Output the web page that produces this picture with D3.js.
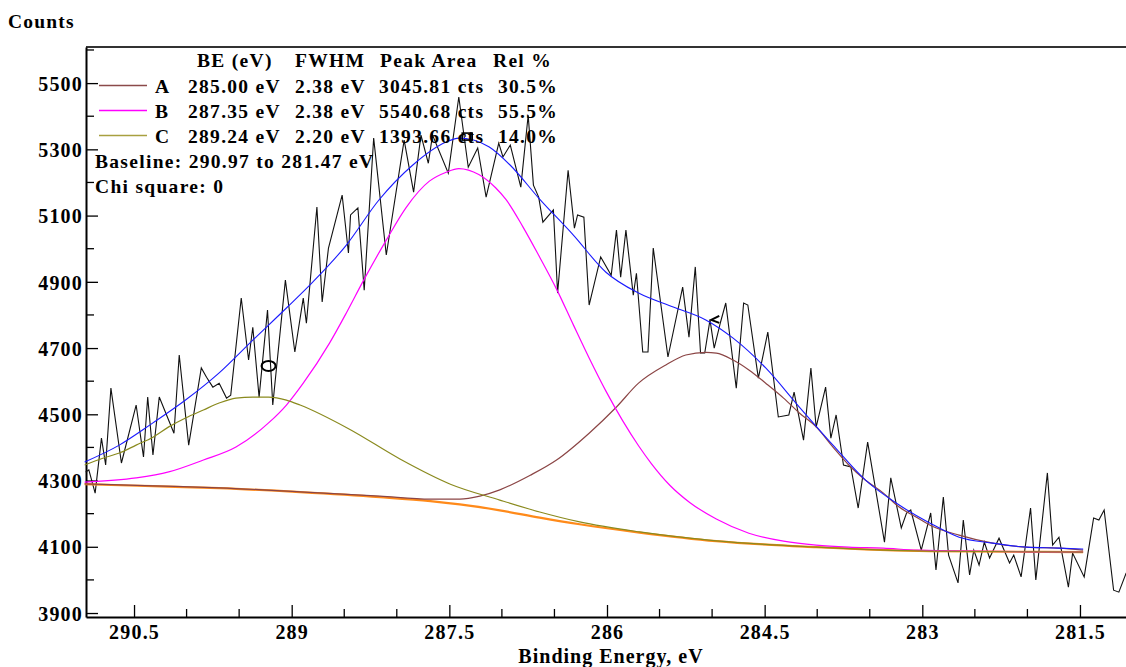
<!DOCTYPE html>
<html>
<head>
<meta charset="utf-8">
<script src="https://cdn.jsdelivr.net/npm/d3@7"></script>
<style>
  html, body { margin: 0; padding: 0; background: #fff; }
  svg text { font-family: "Liberation Serif", "Times New Roman", serif; font-weight: bold; fill: #000; }
</style>
</head>
<body>
<svg id="chart" width="1126" height="667"></svg>
<script>
// C 1s spectrum: raw counts
const rawBE = [290.96,290.93,290.87,290.81,290.77,290.72,290.62,290.48,290.41,290.37,290.32,290.26,290.12,290.07,289.98,289.86,289.81,289.75,289.69,289.62,289.58,289.48,289.41,289.37,289.31,289.23,289.18,289.06,288.97,288.89,288.86,288.76,288.71,288.65,288.52,288.46,288.44,288.37,288.31,288.22,288.10,287.93,287.84,287.77,287.70,287.66,287.51,287.41,287.32,287.23,287.15,287.03,286.99,286.92,286.82,286.75,286.70,286.65,286.61,286.51,286.47,286.37,286.31,286.28,286.22,286.17,286.06,285.96,285.91,285.87,285.82,285.75,285.72,285.66,285.61,285.56,285.42,285.28,285.22,285.16,285.11,285.07,285.02,284.98,284.92,284.87,284.77,284.70,284.66,284.56,284.47,284.37,284.27,284.22,284.13,284.06,284.01,283.92,283.87,283.82,283.75,283.68,283.61,283.52,283.36,283.30,283.20,283.15,283.11,283.01,282.92,282.87,282.80,282.75,282.66,282.61,282.55,282.51,282.46,282.41,282.36,282.27,282.17,282.13,282.06,281.97,281.92,281.81,281.76,281.70,281.61,281.57,281.46,281.37,281.32,281.27,281.18,281.13,281.06];
const rawCounts = [4326,4332,4262,4428,4347,4579,4353,4528,4371,4552,4377,4552,4443,4679,4407,4640,4612,4582,4594,4549,4558,4851,4664,4763,4552,4815,4528,4905,4688,4851,4775,5126,4839,5002,5162,4987,5102,5123,4875,5334,4981,5328,5171,5343,5258,5343,5228,5458,5246,5304,5156,5319,5277,5313,5186,5403,5192,5156,5080,5117,4866,5237,5062,5102,5095,4830,4975,4920,5056,4914,5056,4860,4926,4688,4688,5002,4673,4884,4733,4945,4685,4685,4785,4700,4778,4836,4579,4836,4830,4609,4748,4492,4498,4567,4422,4640,4461,4582,4428,4498,4347,4341,4217,4416,4114,4308,4157,4202,4211,4090,4202,4030,4250,4075,3991,4181,4015,4090,4045,4114,4066,4126,4051,4075,4009,4217,4000,4323,4105,4129,3978,4081,4009,4187,4181,4211,3969,3963,4021];

// Shirley background
const baseBE = [290.97,290.32,289.69,288.92,288.16,287.68,287.40,287.02,286.64,286.26,285.69,284.96,284.01,282.93,281.47];
const baseCounts = [4289,4283,4277,4265,4250,4238,4228,4210,4188,4168,4143,4117,4099,4087,4084];

// Component A (285.00 eV)
const peakABE = [290.97,290.32,289.69,288.92,288.16,287.68,287.40,287.21,287.02,286.73,286.48,286.17,285.91,285.70,285.44,285.25,285.06,284.96,284.80,284.65,284.49,284.32,284.17,284.01,283.85,283.70,283.54,283.37,283.22,283.06,282.93,282.65,282.33,282.01,281.70,281.47];
const peakACounts = [4290,4284,4278,4266,4253,4244,4244,4253,4272,4316,4362,4443,4522,4594,4649,4679,4687,4685,4664,4634,4594,4549,4504,4462,4401,4347,4301,4262,4220,4190,4166,4135,4111,4099,4096,4090];

// Component B (287.35 eV)
const peakBBE = [290.97,290.48,290.17,289.84,289.53,289.22,289.05,288.89,288.64,288.48,288.32,288.10,287.91,287.69,287.53,287.41,287.22,287.06,286.96,286.80,286.65,286.48,286.32,286.17,286.01,285.85,285.70,285.58,285.40,285.21,284.96,284.65,284.32,284.01,283.70,283.37,283.05,281.47];
const peakBCounts = [4295,4308,4326,4362,4401,4474,4528,4594,4715,4806,4902,5026,5125,5204,5231,5242,5224,5184,5148,5066,4980,4878,4770,4670,4570,4480,4405,4352,4285,4233,4184,4141,4117,4105,4099,4096,4090,4084];

// Component C (289.24 eV)
const peakCBE = [290.97,290.79,290.64,290.48,290.32,290.17,290.01,289.84,289.69,289.53,289.37,289.22,289.05,288.92,288.45,287.97,287.49,287.02,286.64,286.26,285.69,284.96,284.01,282.93,281.47];
const peakCCounts = [4347,4368,4383,4407,4431,4462,4489,4513,4534,4549,4552,4552,4543,4528,4455,4365,4289,4241,4205,4175,4145,4118,4099,4087,4084];

// Sum of components
const envBE = [290.97,290.64,290.32,290.01,289.69,289.37,289.05,288.80,288.48,288.17,287.85,287.53,287.41,287.27,287.12,286.92,286.65,286.32,286.01,285.70,285.37,285.06,284.80,284.49,284.17,283.85,283.54,283.22,282.93,282.65,282.33,282.01,281.70,281.47];
const envCounts = [4356,4407,4474,4543,4625,4724,4821,4899,5011,5147,5252,5322,5334,5328,5307,5252,5153,5041,4929,4866,4824,4785,4730,4640,4522,4407,4301,4226,4172,4129,4111,4099,4096,4093];

// Peak table
const peakNames = ["A", "B", "C"];
const peakCentres = [285.00, 287.35, 289.24];
const peakFWHM = [2.38, 2.38, 2.20];
const peakAreas = [3045.81, 5540.68, 1393.66];
const peakRel = [30.5, 55.5, 14.0];
const peakColors = ["#8b4a4a", "#ff00ff", "#a8a040"];
const curveColors = ["#8b4545", "#ff00ff", "#8a8a1e"];

// Peak handles on the envelope
const handleBE = [284.97, 287.33, 289.22];
const handleCounts = [4785, 5337, 4646];

// Axis ticks
const xTickValues = [290.5, 289, 287.5, 286, 284.5, 283, 281.5];
const xTickLabels = ["290.5", "289", "287.5", "286", "284.5", "283", "281.5"];
const xMinorTicks = [290.5, 290, 289.5, 289, 288.5, 288, 287.5, 287, 286.5, 286, 285.5, 285, 284.5, 284, 283.5, 283, 282.5, 282, 281.5];
const yTickValues = [5500, 5300, 5100, 4900, 4700, 4500, 4300, 4100, 3900];
const yTickLabels = ["5500", "5300", "5100", "4900", "4700", "4500", "4300", "4100", "3900"];
const yMinorTicks = [5600, 5400, 5200, 5000, 4800, 4600, 4400, 4200, 4000];

const svg = d3.select("#chart");
const plotLeft = 86, plotRight = 1126, plotTop = 47, plotBottom = 617;

const x = d3.scaleLinear().domain([290.957, 281.062]).range([plotLeft, plotRight]);
const y = d3.scaleLinear().domain([3888, 5609]).range([plotBottom, plotTop]);

svg.append("rect").attr("width", 1126).attr("height", 667).attr("fill", "#fff");

// top border of the plot frame
svg.append("line").attr("x1", plotLeft).attr("x2", plotRight).attr("y1", plotTop).attr("y2", plotTop)
  .attr("stroke", "#333").attr("stroke-width", 2);

// x axis
const xAxis = d3.axisBottom(x).tickValues(xTickValues)
  .tickFormat((d, i) => xTickLabels[i]).tickSizeInner(-12).tickSizeOuter(0).tickPadding(20);
const gx = svg.append("g").attr("transform", `translate(0,${plotBottom})`).call(xAxis);
gx.select(".domain").attr("stroke", "#000").attr("stroke-width", 2);
gx.selectAll(".tick line").attr("stroke", "#000").attr("stroke-width", 1.3);
gx.selectAll(".tick text").attr("font-size", 20).style("letter-spacing", "1.2px")
  .attr("dy", "0.35em").attr("y", 15);
svg.append("g").selectAll("line").data(xMinorTicks.filter(v => !xTickValues.includes(v)))
  .join("line")
  .attr("x1", d => x(d)).attr("x2", d => x(d)).attr("y1", plotBottom).attr("y2", plotBottom - 8)
  .attr("stroke", "#000").attr("stroke-width", 1.3);

// y axis
const yAxis = d3.axisLeft(y).tickValues(yTickValues)
  .tickFormat((d, i) => yTickLabels[i]).tickSizeInner(-12).tickSizeOuter(0).tickPadding(4);
const gy = svg.append("g").attr("transform", `translate(${plotLeft},0)`).call(yAxis);
gy.select(".domain").attr("stroke", "#000").attr("stroke-width", 2);
gy.selectAll(".tick line").attr("stroke", "#000").attr("stroke-width", 1.3);
gy.selectAll(".tick text").attr("font-size", 20).style("letter-spacing", "1.2px")
  .attr("x", -3).attr("dy", "0.36em");
svg.append("g").selectAll("line").data(yMinorTicks).join("line")
  .attr("x1", plotLeft).attr("x2", plotLeft + 8).attr("y1", d => y(d)).attr("y2", d => y(d))
  .attr("stroke", "#000").attr("stroke-width", 1.3);

// axis titles
svg.append("text").attr("x", 8).attr("y", 28).attr("font-size", 19.5)
  .style("letter-spacing", "1.2px").text("Counts");
svg.append("text").attr("x", 611).attr("y", 663).attr("text-anchor", "middle")
  .attr("font-size", 20).style("letter-spacing", "1px").text("Binding Energy, eV");

// curves
const plot = svg.append("g");
const zipXY = (es, cs) => es.map((e, i) => [x(e), y(cs[i])]);
const smooth = d3.line().curve(d3.curveMonotoneX);
const straight = d3.line();

plot.append("path").attr("d", straight(zipXY(rawBE, rawCounts)))
  .attr("fill", "none").attr("stroke", "#111").attr("stroke-width", 1.1);

plot.append("path").attr("d", smooth(zipXY(baseBE, baseCounts)))
  .attr("fill", "none").attr("stroke", "#ff8a1a").attr("stroke-width", 2.2);

const comps = [[peakABE, peakACounts], [peakBBE, peakBCounts], [peakCBE, peakCCounts]];
comps.forEach(([es, cs], i) => {
  plot.append("path").attr("d", smooth(zipXY(es, cs)))
    .attr("fill", "none").attr("stroke", curveColors[i]).attr("stroke-width", 1.2);
});

plot.append("path").attr("d", smooth(zipXY(envBE, envCounts)))
  .attr("fill", "none").attr("stroke", "#1a1aff").attr("stroke-width", 1.1);

// peak handles (A, B, C)
const hA = [x(handleBE[0]), y(handleCounts[0])];
plot.append("path")
  .attr("d", `M${hA[0] + 4},${hA[1] - 4} L${hA[0] - 4},${hA[1]} L${hA[0] + 4},${hA[1] + 3}`)
  .attr("fill", "none").attr("stroke", "#000").attr("stroke-width", 2);
const hB = [x(handleBE[1]), y(handleCounts[1])];
plot.append("rect").attr("x", hB[0] - 5).attr("y", hB[1] - 4).attr("width", 10).attr("height", 7)
  .attr("fill", "none").attr("stroke", "#000").attr("stroke-width", 1.6);
const hC = [x(handleBE[2]), y(handleCounts[2])];
plot.append("ellipse").attr("cx", hC[0]).attr("cy", hC[1]).attr("rx", 7).attr("ry", 5)
  .attr("fill", "none").attr("stroke", "#000").attr("stroke-width", 2);

// peak table
const legend = svg.append("g").attr("font-size", 19.5).style("letter-spacing", "1.3px");
const headX = [197, 295, 380, 493];
["BE (eV)", "FWHM", "Peak Area", "Rel %"].forEach((t, i) => {
  legend.append("text").attr("x", headX[i]).attr("y", 66.5).text(t);
});
const rowY = [92.5, 117.5, 142.5];
peakNames.forEach((name, i) => {
  const cy = rowY[i] - 7;
  legend.append("line").attr("x1", 99).attr("x2", 147).attr("y1", cy).attr("y2", cy)
    .attr("stroke", peakColors[i]).attr("stroke-width", 1.5);
  legend.append("text").attr("x", 155).attr("y", rowY[i]).text(name);
  legend.append("text").attr("x", 188).attr("y", rowY[i]).text(peakCentres[i].toFixed(2) + " eV");
  legend.append("text").attr("x", 295).attr("y", rowY[i]).text(peakFWHM[i].toFixed(2) + " eV");
  legend.append("text").attr("x", 379).attr("y", rowY[i]).text(peakAreas[i].toFixed(2) + " cts");
  legend.append("text").attr("x", 498).attr("y", rowY[i]).text(peakRel[i].toFixed(1) + "%");
});
legend.append("text").attr("x", 95).attr("y", 168)
  .text(`Baseline:  ${baseBE[0].toFixed(2)} to  ${baseBE[baseBE.length - 1].toFixed(2)} eV`);
legend.append("text").attr("x", 95).attr("y", 193).text("Chi square: 0");
</script>
</body>
</html>
